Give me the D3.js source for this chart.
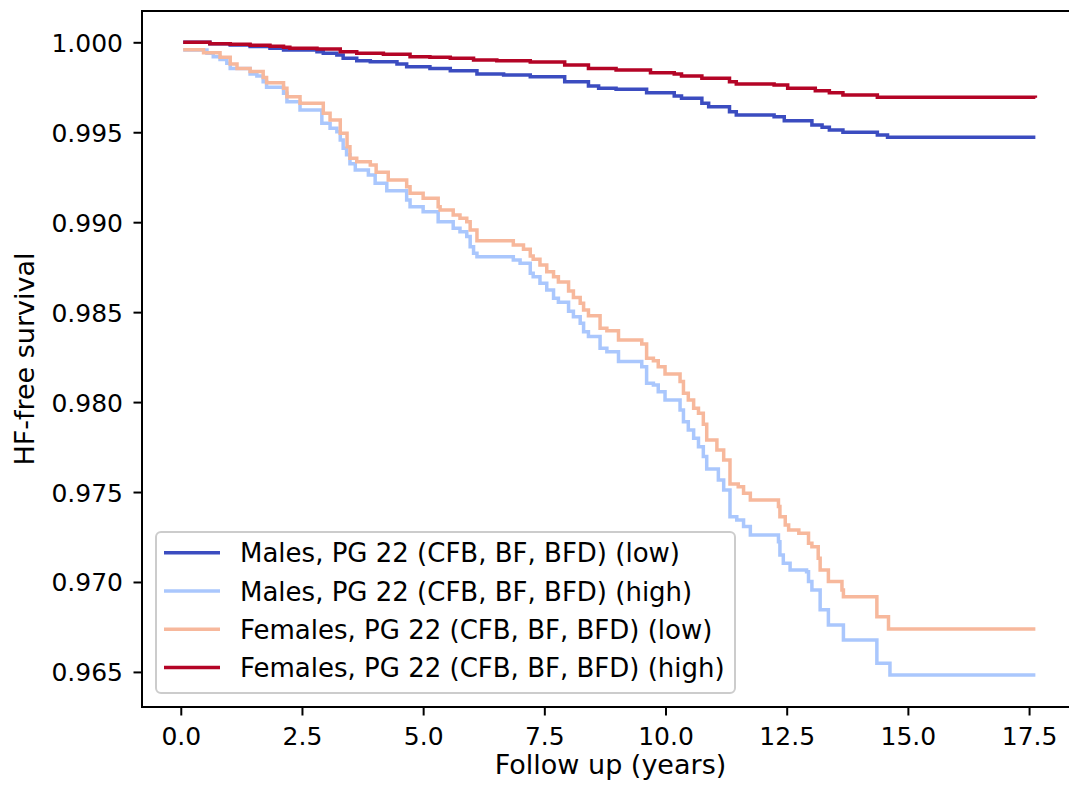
<!DOCTYPE html>
<html><head><meta charset="utf-8">
<script src="https://cdn.jsdelivr.net/npm/d3@7"></script>
<style>body{margin:0;background:#fff}svg{display:block}text{font-family:"DejaVu Sans",sans-serif}</style>
</head><body><svg id="c" width="1069" height="787"></svg>
<script>
const seriesNames = ["Males, PG 22 (CFB, BF, BFD) (low)","Males, PG 22 (CFB, BF, BFD) (high)","Females, PG 22 (CFB, BF, BFD) (low)","Females, PG 22 (CFB, BF, BFD) (high)"];
const seriesColors = ["#3b4cc0","#aac7fd","#f7b89c","#b40426"];
const xTicks = [0,2.5,5,7.5,10,12.5,15,17.5];
const yTicks = [0.965,0.970,0.975,0.980,0.985,0.990,0.995,1.000];
const xLabel = "Follow up (years)";
const yLabel = "HF-free survival";

const malesLow = [[0.05,1.0],[0.6,0.99992],[1.02,0.99985],[1.43,0.99976],[1.84,0.99967],[2.12,0.99957],[2.81,0.99948],[2.94,0.99939],[3.22,0.99929],[3.35,0.99911],[3.63,0.99898],[3.91,0.99892],[4.46,0.99879],[4.66,0.99864],[5.14,0.99855],[5.56,0.99842],[6.11,0.99824],[6.66,0.99818],[7.21,0.99809],[7.92,0.99781],[8.41,0.99757],[8.62,0.99744],[8.98,0.99739],[9.61,0.9972],[10.18,0.99702],[10.33,0.99689],[10.75,0.99661],[10.89,0.99642],[11.32,0.99614],[11.46,0.99596],[12.24,0.99586],[12.45,0.99564],[13.02,0.9954],[13.23,0.99528],[13.38,0.99513],[13.66,0.995],[14.37,0.99485],[14.58,0.99472],[17.63,0.99472]];
const malesHigh = [[0.05,0.99957],[0.54,0.99939],[0.67,0.9992],[0.81,0.99905],[0.95,0.99883],[1.02,0.99855],[1.43,0.99824],[1.57,0.99813],[1.70,0.99781],[1.77,0.9975],[2.12,0.99717],[2.19,0.9967],[2.46,0.99624],[2.91,0.9955],[3.08,0.99522],[3.22,0.99503],[3.29,0.99457],[3.35,0.99411],[3.42,0.99375],[3.49,0.99325],[3.60,0.9929],[3.87,0.99262],[4.01,0.99216],[4.25,0.99175],[4.66,0.99123],[4.73,0.99086],[5.0,0.99058],[5.31,0.99003],[5.62,0.98966],[5.76,0.98947],[5.90,0.9892],[5.97,0.98864],[6.04,0.98827],[6.11,0.98808],[6.86,0.9879],[7.0,0.98772],[7.21,0.98716],[7.27,0.98697],[7.41,0.9866],[7.55,0.98623],[7.69,0.98577],[7.79,0.98555],[8.0,0.98505],[8.10,0.98475],[8.24,0.98438],[8.31,0.98391],[8.41,0.98364],[8.65,0.98299],[8.79,0.9828],[9.03,0.98225],[9.51,0.98197],[9.61,0.98105],[9.75,0.98095],[9.85,0.98058],[9.99,0.98012],[10.30,0.97956],[10.37,0.97891],[10.47,0.97845],[10.58,0.97799],[10.68,0.97752],[10.78,0.97697],[10.85,0.97628],[11.09,0.97567],[11.2,0.97511],[11.33,0.97363],[11.47,0.97345],[11.61,0.97308],[11.75,0.97261],[12.33,0.97224],[12.36,0.9715],[12.43,0.97104],[12.57,0.97067],[12.91,0.97057],[12.95,0.97002],[13.02,0.96956],[13.19,0.96845],[13.36,0.96761],[13.67,0.96678],[14.36,0.96548],[14.63,0.96483],[17.63,0.96483]];
const femalesLow = [[0.05,0.99959],[0.47,0.99942],[0.81,0.99917],[1.02,0.99879],[1.16,0.99855],[1.43,0.99837],[1.70,0.99805],[1.77,0.99775],[2.12,0.99744],[2.19,0.99698],[2.46,0.99661],[2.94,0.99605],[3.08,0.99568],[3.29,0.99494],[3.43,0.9942],[3.49,0.99355],[3.63,0.99336],[3.91,0.99318],[4.03,0.99278],[4.28,0.99235],[4.66,0.99197],[4.73,0.99161],[5.0,0.99133],[5.31,0.99086],[5.35,0.99068],[5.62,0.9904],[5.76,0.99022],[5.90,0.99003],[5.97,0.98957],[6.11,0.98897],[6.86,0.98873],[7.07,0.98849],[7.21,0.98812],[7.27,0.98794],[7.41,0.98762],[7.55,0.98725],[7.69,0.98697],[7.79,0.98667],[8.0,0.98618],[8.10,0.98582],[8.24,0.98549],[8.31,0.98512],[8.41,0.9848],[8.65,0.9841],[8.79,0.98397],[9.03,0.98345],[9.51,0.98323],[9.61,0.98244],[9.75,0.9823],[9.85,0.98197],[9.99,0.98156],[10.30,0.98114],[10.37,0.98049],[10.47,0.98012],[10.58,0.97966],[10.68,0.97938],[10.78,0.97877],[10.85,0.97789],[11.06,0.97734],[11.2,0.97678],[11.33,0.97544],[11.5,0.9753],[11.61,0.97493],[11.75,0.97456],[12.33,0.97419],[12.36,0.97363],[12.47,0.97317],[12.54,0.97289],[12.75,0.97271],[12.95,0.97215],[13.02,0.97196],[13.15,0.97132],[13.19,0.97067],[13.36,0.97002],[13.64,0.96956],[13.67,0.96918],[14.36,0.96807],[14.60,0.96739],[17.63,0.96739]];
const femalesHigh = [[0.05,1.0],[0.6,0.99992],[1.02,0.99989],[1.43,0.99983],[1.84,0.99978],[2.12,0.99972],[2.25,0.99967],[2.81,0.99963],[3.29,0.99948],[3.63,0.99939],[4.18,0.99933],[4.73,0.9992],[5.14,0.99917],[5.56,0.99911],[6.04,0.99902],[6.52,0.99898],[7.21,0.99891],[7.92,0.99874],[8.41,0.99855],[8.98,0.99846],[9.69,0.99831],[10.18,0.99824],[10.33,0.99813],[10.75,0.998],[11.32,0.99781],[11.46,0.99768],[12.24,0.99763],[12.52,0.99744],[13.09,0.99731],[13.38,0.9972],[13.66,0.99707],[14.37,0.99694],[17.63,0.99692]];
const seriesData = [malesLow, malesHigh, femalesLow, femalesHigh];

const svg = d3.select("#c");
const FS = 25, FL = 27, FG = 26;
const L = 142, R = 1079, T = 11, B = 707;
const x = d3.scaleLinear().domain([-0.8, 18.53]).range([L, R]);
const y = d3.scaleLinear().domain([0.96305, 1.00174]).range([B, T]);

// curves
const line = d3.line().x(d => x(d[0])).y(d => y(d[1])).curve(d3.curveStepAfter);
svg.append("g").selectAll("path").data(seriesData).join("path")
  .attr("d", line).attr("fill", "none")
  .attr("stroke", (d, i) => seriesColors[i]).attr("stroke-width", 3.5)
  .attr("stroke-linejoin", "miter").attr("stroke-linecap", "butt");

// axes
const gx = svg.append("g").attr("transform", `translate(0,${B})`)
  .call(d3.axisBottom(x).tickValues(xTicks).tickFormat(d3.format(".1f")).tickSize(8.5).tickPadding(0));
gx.select(".domain").remove();
gx.selectAll(".tick line").attr("stroke", "#000").attr("stroke-width", 2);
gx.selectAll(".tick text").attr("y", 38).attr("dy", null).attr("fill", "#000")
  .style("font-size", FS + "px").style("font-family", "DejaVu Sans");

const gy = svg.append("g").attr("transform", `translate(${L},0)`)
  .call(d3.axisLeft(y).tickValues(yTicks).tickFormat(d3.format(".3f")).tickSize(8.5).tickPadding(0));
gy.select(".domain").remove();
gy.selectAll(".tick line").attr("stroke", "#000").attr("stroke-width", 2);
gy.selectAll(".tick text").attr("x", -19).attr("dy", "0.36em").attr("fill", "#000")
  .style("font-size", FS + "px").style("font-family", "DejaVu Sans");

// spines
svg.append("rect").attr("x", L).attr("y", T).attr("width", R - L).attr("height", B - T)
  .attr("fill", "none").attr("stroke", "#000").attr("stroke-width", 2);

// axis labels
svg.append("text").attr("x", (L + R) / 2).attr("y", 774).attr("text-anchor", "middle")
  .style("font-size", FL + "px").attr("fill", "#000").text(xLabel);
svg.append("text").attr("transform", `translate(34,${(T + B) / 2}) rotate(-90)`).attr("text-anchor", "middle")
  .style("font-size", FL + "px").attr("fill", "#000").text(yLabel);

// legend
const lg = svg.append("g");
lg.append("rect").attr("x", 156).attr("y", 532).attr("width", 579).attr("height", 161)
  .attr("rx", 5).attr("fill", "#fff").attr("fill-opacity", 0.8).attr("stroke", "#cccccc").attr("stroke-width", 2);
const rows = lg.selectAll("g.row").data(seriesNames).join("g").attr("class", "row")
  .attr("transform", (d, i) => `translate(0,${552.7 + i * 38.3})`);
rows.append("line").attr("x1", 164).attr("x2", 220).attr("y1", 0).attr("y2", 0)
  .attr("stroke", (d, i) => seriesColors[i]).attr("stroke-width", 3.5);
rows.append("text").attr("x", 240).attr("y", 9.5).style("font-size", FG + "px").attr("fill", "#000").text(d => d);
</script></body></html>
